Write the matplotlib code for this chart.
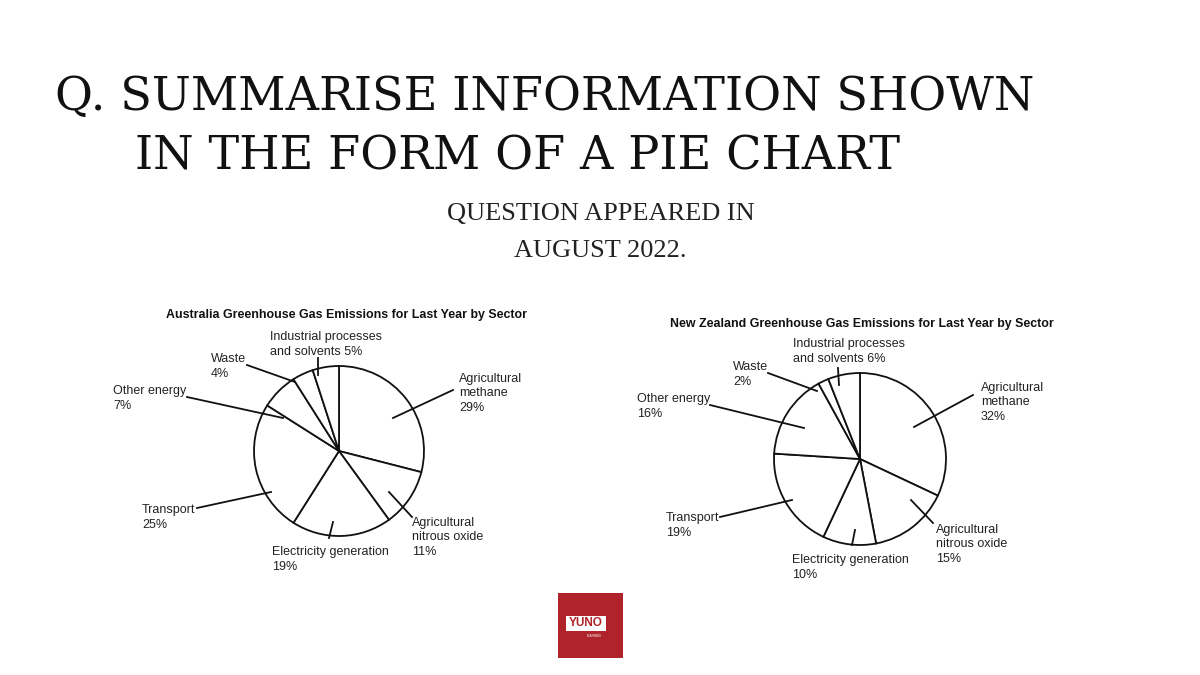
import matplotlib.pyplot as plt
from matplotlib.patches import Rectangle

W, H = 1200, 675

sectors = [
    "Agricultural\nmethane",
    "Agricultural\nnitrous oxide",
    "Electricity generation",
    "Transport",
    "Other energy",
    "Waste",
    "Industrial processes\nand solvents",
]
australia = [29, 11, 19, 25, 7, 4, 5]
new_zealand = [32, 15, 10, 19, 16, 2, 6]

titles = [
    "Australia Greenhouse Gas Emissions for Last Year by Sector",
    "New Zealand Greenhouse Gas Emissions for Last Year by Sector",
]


def P(x, y):
    # image pixel coords (y down) -> axes coords (y up)
    return x, H - y


fig = plt.figure(figsize=(12, 6.75), dpi=100)
ax = fig.add_axes([0, 0, 1, 1])

LINE_STEP = 15  # px between label lines

# layout per chart: pie centre, radius, title baseline, label first-line baseline, leader lines
layouts = [
    {
        "center": (339, 451), "radius": 85, "title": (346, 318),
        "text": [(459, 381), (412, 525), (272, 555), (142, 513),
                 (113, 394), (211, 362), (270, 340)],
        "lines": [((453, 390), (393, 418)), ((412, 517), (389, 492)),
                  ((329, 538), (333, 522)), ((197, 508), (271, 492)),
                  ((187, 397), (283, 418)), ((247, 365), (295, 382)),
                  ((318, 358), (318, 375))],
    },
    {
        "center": (860, 459), "radius": 86, "title": (862, 327),
        "text": [(981, 390), (936, 532), (792, 563), (666, 521),
                 (637, 402), (733, 370), (793, 347)],
        "lines": [((973, 395), (914, 427)), ((933, 523), (911, 500)),
                  ((852, 545), (855, 530)), ((720, 517), (792, 500)),
                  ((710, 405), (804, 428)), ((768, 373), (817, 391)),
                  ((838, 368), (839, 385))],
    },
]

for values, title, lay in zip([australia, new_zealand], titles, layouts):
    ax.pie(values, center=P(*lay["center"]), radius=lay["radius"],
           startangle=90, counterclock=False, frame=True,
           wedgeprops={"facecolor": "white", "edgecolor": "#111111",
                       "linewidth": 1.3})
    tx, ty = P(*lay["title"])
    ax.text(tx, ty, title, ha="center", va="baseline", fontsize=8.9,
            fontweight="bold", family="Liberation Sans", color="#111111")
    for name, v, (x, y), (a, b) in zip(sectors, values, lay["text"], lay["lines"]):
        if name.startswith("Industrial"):
            label = f"{name} {v}%"
        else:
            label = f"{name}\n{v}%"
        n_lines = label.count("\n") + 1
        # baseline alignment of a multi-line text uses its last line
        ax.text(x, H - (y + (n_lines - 1) * LINE_STEP), label, ha="left",
                va="baseline", fontsize=9, family="Liberation Sans",
                color="#222222", linespacing=1.28)
        ax.plot([a[0], b[0]], [H - a[1], H - b[1]], color="#111111", lw=1.3)

# heading
ax.text(55, H - 110, "Q. SUMMARISE INFORMATION SHOWN", ha="left",
        va="baseline", fontsize=33.3, family="DejaVu Serif", color="#111111")
ax.text(135, H - 170, "IN THE FORM OF A PIE CHART", ha="left",
        va="baseline", fontsize=33.3, family="DejaVu Serif", color="#111111")
ax.text(601, H - 220, "QUESTION APPEARED IN", ha="center", va="baseline",
        fontsize=19, family="Liberation Serif", color="#222222")
ax.text(600, H - 257, "AUGUST 2022.", ha="center", va="baseline",
        fontsize=19, family="Liberation Serif", color="#222222")

# logo
red = "#b0232a"
ax.add_patch(Rectangle(P(558, 658), 65, 65, facecolor=red, edgecolor="none"))
ax.add_patch(Rectangle(P(566, 631), 40, 15, facecolor="white", edgecolor="none"))
ax.text(586, H - 623.5, "YUNO", ha="center", va="center", fontsize=8.5,
        fontweight="bold", family="Liberation Sans", color=red)
ax.text(594, H - 636, "LEARNING", ha="center", va="center", fontsize=2.2,
        family="Liberation Sans", color="white")

ax.set_xlim(0, W)
ax.set_ylim(0, H)
ax.set_aspect("equal")
ax.axis("off")

fig.savefig("out.png", dpi=100, facecolor="white")
